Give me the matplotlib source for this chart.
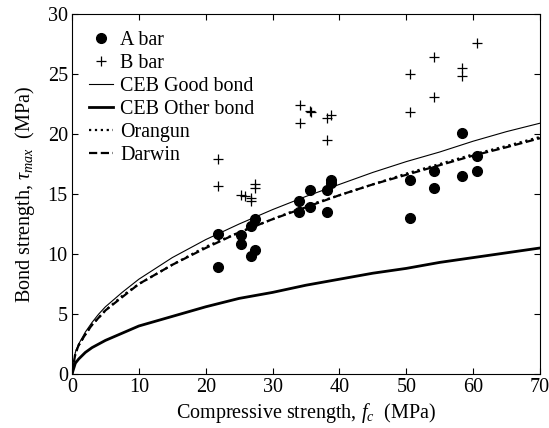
import numpy as np
import matplotlib
matplotlib.use('Agg')
import matplotlib.pyplot as plt

plt.rcParams['font.family'] = ['Liberation Serif', 'DejaVu Serif']
plt.rcParams['mathtext.fontset'] = 'custom'
plt.rcParams['mathtext.rm'] = 'Liberation Serif'
plt.rcParams['mathtext.it'] = 'Liberation Serif:italic'

# test data
a_fc = [21.9, 21.9, 25.3, 25.3, 26.7, 26.7, 27.4, 27.4, 34.0, 34.0, 35.6, 35.6,
        38.2, 38.2, 38.7, 38.7, 50.5, 50.5, 54.1, 54.1, 58.4, 58.4, 60.6, 60.6]
a_tau = [11.7, 8.9, 11.6, 10.8, 12.3, 9.8, 12.9, 10.3, 14.4, 13.5, 15.3, 13.9,
         15.3, 13.5, 16.2, 15.9, 16.2, 13.0, 16.9, 15.5, 20.1, 16.5, 18.2, 16.9]
b_fc = [21.9, 21.9, 25.3, 25.9, 26.7, 26.7, 27.4, 27.4, 34.1, 34.1, 35.6, 35.8,
        38.2, 38.7, 38.2, 50.5, 50.5, 54.1, 54.1, 58.4, 58.4, 60.6]
b_tau = [17.9, 15.7, 14.9, 14.8, 14.7, 14.4, 15.8, 15.5, 22.4, 20.9, 21.9, 21.8,
         21.3, 21.6, 19.5, 25.0, 21.8, 26.4, 23.1, 25.5, 24.8, 27.6]

# model curves
curve_fc = [0, 0.5, 1, 2, 3, 4, 5, 7.5, 10, 15, 20, 25, 30, 35, 40, 45, 50, 55, 60, 65, 70]
ceb_good = [0, 1.8, 2.5, 3.5, 4.3, 5.0, 5.6, 6.8, 7.9, 9.7, 11.2, 12.5, 13.7, 14.8,
            15.8, 16.8, 17.7, 18.5, 19.4, 20.2, 20.9]
ceb_other = [0, 0.9, 1.25, 1.8, 2.2, 2.5, 2.8, 3.4, 4.0, 4.8, 5.6, 6.3, 6.8, 7.4,
             7.9, 8.4, 8.8, 9.3, 9.7, 10.1, 10.5]
orangun = [0, 1.7, 2.4, 3.3, 4.1, 4.7, 5.3, 6.5, 7.5, 9.1, 10.6, 11.8, 12.9, 14.0,
           14.9, 15.8, 16.7, 17.5, 18.3, 19.0, 19.75]
darwin = [0, 1.7, 2.4, 3.3, 4.1, 4.7, 5.3, 6.4, 7.5, 9.1, 10.5, 11.8, 12.9, 13.9,
          14.9, 15.8, 16.6, 17.4, 18.2, 18.9, 19.65]

fig = plt.figure(figsize=(5.49, 4.28), dpi=100)
ax = fig.add_axes([72/549, 1-374/428, 468/549, 360/428])

ax.plot(a_fc, a_tau, 'o', color='black', markersize=7, label='A bar')
ax.plot(b_fc, b_tau, '+', color='black', markersize=6.5, markeredgewidth=0.9, label='B bar')
ax.plot(curve_fc, ceb_good, '-', color='black', lw=0.8, label='CEB Good bond')
ax.plot(curve_fc, ceb_other, '-', color='black', lw=2.0, label='CEB Other bond')
ax.plot(curve_fc, orangun, ':', color='black', lw=1.6, label='Orangun')
ax.plot(curve_fc, darwin, '--', color='black', lw=1.6, label='Darwin')

ax.set_xlim(0, 70)
ax.set_ylim(0, 30)
ax.set_xticks(range(0, 71, 10))
ax.set_yticks(range(0, 31, 5))
ax.tick_params(direction='in', top=True, right=True, labelsize=14.5, length=4, pad=3)
ax.set_xlabel('Compressive strength, $f_c$  (MPa)', fontsize=14.5, labelpad=3)
ax.set_ylabel(r'Bond strength, $\tau_{max}$  (MPa)', fontsize=14.5, labelpad=8)

ax.legend(loc='upper left', frameon=False, fontsize=14.4, handlelength=1.2,
          handletextpad=0.35, labelspacing=0.2, borderaxespad=0.45)

fig.savefig('out.png', dpi=100)
